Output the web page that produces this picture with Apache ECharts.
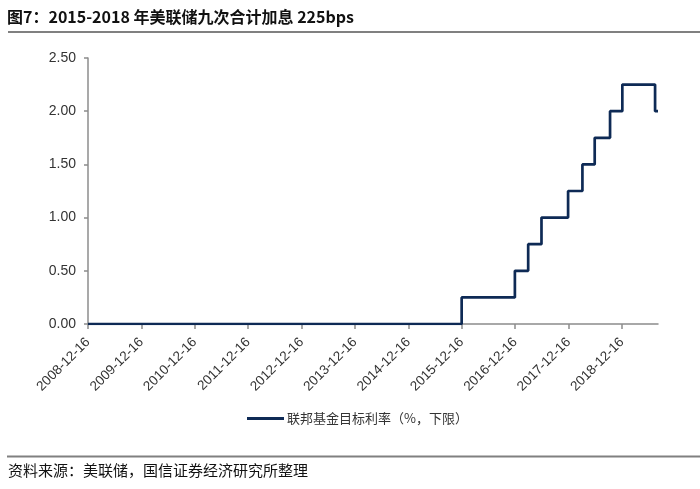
<!DOCTYPE html>
<html>
<head>
<meta charset="utf-8">
<script src="https://cdn.jsdelivr.net/npm/echarts@6/dist/echarts.min.js"></script>
<style>
html,body{margin:0;padding:0;background:#fff;}
#c{width:700px;height:489px;}
</style>
</head>
<body>
<div id="c"></div>
<script>
// Data: Fed funds target rate lower bound (%), effective from each date
var rateDates = ['2008-12-16','2015-12-16','2016-12-14','2017-03-15','2017-06-14','2017-12-13','2018-03-21','2018-06-13','2018-09-26','2018-12-19','2019-07-31','2019-08-20'];
var rateValues = [0.00, 0.25, 0.50, 0.75, 1.00, 1.25, 1.50, 1.75, 2.00, 2.25, 2.00, 2.00];
var xTickLabels = ['2008-12-16','2009-12-16','2010-12-16','2011-12-16','2012-12-16','2013-12-16','2014-12-16','2015-12-16','2016-12-16','2017-12-16','2018-12-16'];
var seriesName = '联邦基金目标利率（%，下限）';
var titleText = '图7：2015-2018 年美联储九次合计加息 225bps';
var sourceText = '资料来源：美联储，国信证券经济研究所整理';

var baseDate = Date.parse(xTickLabels[0]);
var yearMs = 365.25 * 86400000;
function toYears(d){ return (Date.parse(d) - baseDate) / yearMs; }
var seriesData = rateDates.map(function(d, i){ return [toYears(d), rateValues[i]]; });
var xMax = toYears(rateDates[rateDates.length - 1]);

var chart = echarts.init(document.getElementById('c'));
var font = '"Noto Sans CJK SC", "DejaVu Sans", sans-serif';
chart.setOption({
  animation: false,
  backgroundColor: '#fff',
  textStyle: { fontFamily: font },
  title: {
    text: titleText,
    left: 7, top: 9, padding: 0,
    textStyle: { fontSize: 16, fontWeight: 'bold', color: '#111', fontFamily: font }
  },
  graphic: [
    { type: 'line', shape: { x1: 8, y1: 32, x2: 700, y2: 32 }, style: { stroke: '#808080', lineWidth: 2 } },
    { type: 'line', shape: { x1: 7, y1: 456.5, x2: 700, y2: 456.5 }, style: { stroke: '#808080', lineWidth: 2 } },
    { type: 'text', left: 8, top: 463, style: { text: sourceText, fontSize: 15, fill: '#111', fontFamily: font } }
  ],
  legend: {
    left: 247, top: 412, padding: 0,
    icon: 'rect', itemWidth: 37, itemHeight: 3, itemGap: 3,
    textStyle: { fontSize: 13, color: '#333', fontFamily: font, padding: [0, 0, 0, -2] },
    data: [seriesName]
  },
  grid: { left: 88, right: 42, top: 58, bottom: 165, containLabel: false },
  xAxis: {
    type: 'value',
    min: 0, max: xMax, interval: 1,
    axisLine: { show: true, lineStyle: { color: '#8c8c8c', width: 1.5 } },
    axisTick: { show: true, length: 5, lineStyle: { color: '#8c8c8c', width: 1.5 } },
    splitLine: { show: false },
    axisLabel: {
      rotate: 45, margin: 16, fontSize: 13.5, color: '#333', fontFamily: 'Liberation Sans, Arial, sans-serif',
      showMaxLabel: false,
      formatter: function(v){ var i = Math.round(v); return xTickLabels[i] || ''; }
    }
  },
  yAxis: {
    type: 'value',
    min: 0, max: 2.5, interval: 0.5,
    axisLine: { show: true, lineStyle: { color: '#8c8c8c', width: 1.5 } },
    axisTick: { show: true, inside: false, length: 4, lineStyle: { color: '#8c8c8c', width: 1.5 } },
    splitLine: { show: false },
    axisLabel: {
      margin: 12, fontSize: 14, color: '#333', fontFamily: 'Liberation Sans, Arial, sans-serif',
      formatter: function(v){ return v.toFixed(2); }
    }
  },
  series: [{
    name: seriesName,
    type: 'line',
    step: 'end',
    data: seriesData,
    showSymbol: false,
    symbol: 'none',
    lineStyle: { color: '#0e2a55', width: 2.7 },
    itemStyle: { color: '#0e2a55' }
  }]
});
</script>
</body>
</html>
